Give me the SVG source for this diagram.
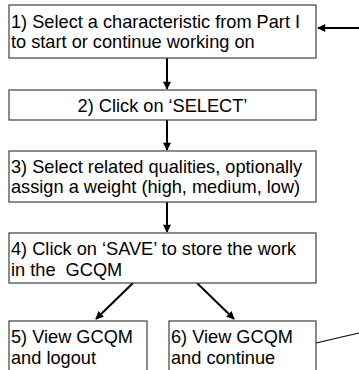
<svg xmlns="http://www.w3.org/2000/svg" width="359" height="370" viewBox="0 0 359 370">
<style>
.box{fill:#fff;stroke:#404040;stroke-width:1.2}
.t{font-family:"Liberation Sans",Arial,sans-serif;font-size:18.2px;fill:#000;white-space:pre}
.c{stroke:#000;stroke-width:2;fill:none}
.thin{stroke:#000;stroke-width:1.2;fill:none}
</style>
<defs>
<marker id="ah" viewBox="0 0 10 10" refX="9" refY="5" markerWidth="4.5" markerHeight="4" orient="auto" markerUnits="strokeWidth">
<path d="M0,0 L10,5 L0,10 z" fill="#000"/>
</marker>
</defs>
<rect width="359" height="370" fill="#fff"/>
<g id="connectors">
<line class="c" x1="167" y1="58" x2="167" y2="89" marker-end="url(#ah)"/>
<line class="c" x1="167" y1="120" x2="167" y2="150" marker-end="url(#ah)"/>
<line class="c" x1="167" y1="202" x2="167" y2="232" marker-end="url(#ah)"/>
<line class="c" x1="133" y1="283" x2="96" y2="319" marker-end="url(#ah)"/>
<line class="c" x1="197" y1="283" x2="234" y2="319" marker-end="url(#ah)"/>
<line class="c" x1="359" y1="28" x2="318" y2="28" marker-end="url(#ah)"/>
<line class="thin" x1="316" y1="343" x2="359" y2="333"/>
</g>
<g id="n1">
<rect class="box" x="9" y="5" width="307" height="53"/>
<text class="t" x="11" y="28">1) Select a characteristic from Part I</text>
<text class="t" x="11" y="48">to start or continue working on</text>
</g>
<g id="n2">
<rect class="box" x="9" y="90" width="307" height="30"/>
<text class="t" x="162.5" y="112" text-anchor="middle">2) Click on ‘SELECT’</text>
</g>
<g id="n3">
<rect class="box" x="9" y="151" width="307" height="51"/>
<text class="t" x="11" y="173">3) Select related qualities, optionally</text>
<text class="t" x="11" y="193">assign a weight (high, medium, low)</text>
</g>
<g id="n4">
<rect class="box" x="9" y="233" width="307" height="50"/>
<text class="t" x="11" y="255">4) Click on ‘SAVE’ to store the work</text>
<text class="t" x="11" y="276" xml:space="preserve">in the  GCQM</text>
</g>
<g id="n5">
<rect class="box" x="9" y="321" width="138" height="60"/>
<text class="t" x="11" y="343">5) View GCQM</text>
<text class="t" x="11" y="364">and logout</text>
</g>
<g id="n6">
<rect class="box" x="169" y="321" width="147" height="60"/>
<text class="t" x="171" y="343">6) View GCQM</text>
<text class="t" x="171" y="364">and continue</text>
</g>
</svg>
